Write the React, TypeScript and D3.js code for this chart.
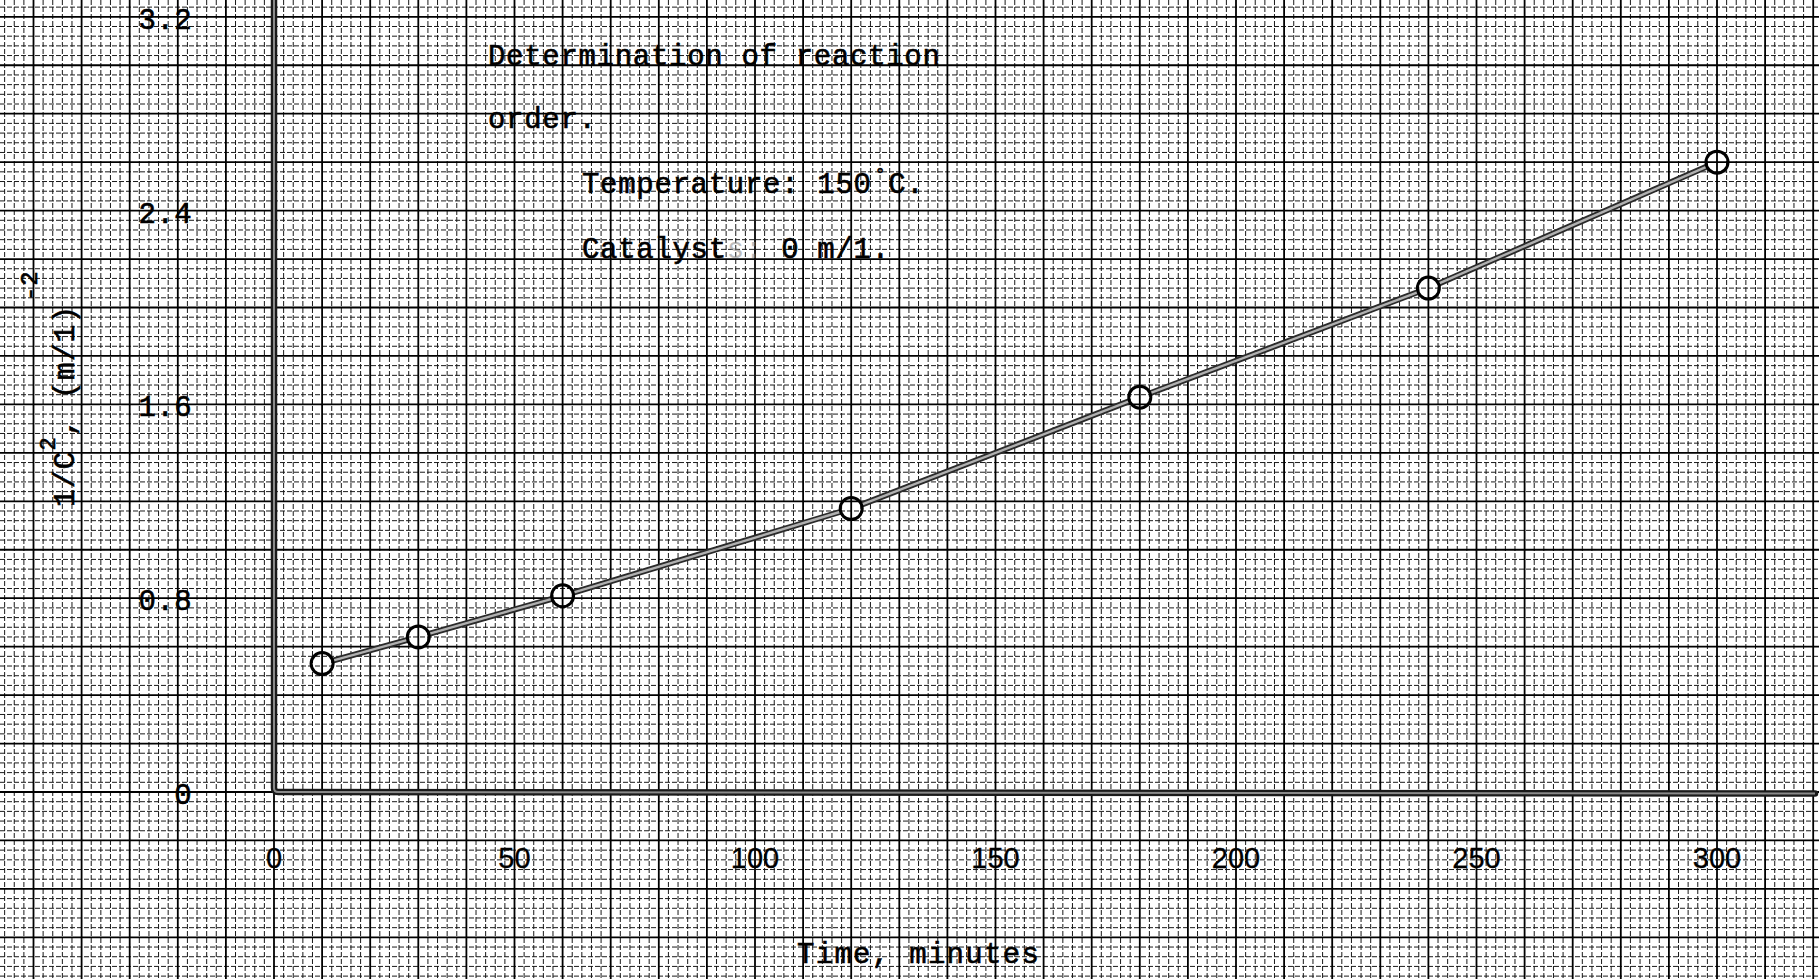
import React from 'react';
import * as d3 from 'd3';

const W = 1819;
const H = 979;

// Data
const times = [10, 30, 60, 120, 180, 240, 300];
const invC2 = [0.53, 0.64, 0.81, 1.17, 1.63, 2.08, 2.6];

const xTickValues = [0, 50, 100, 150, 200, 250, 300];
const xTickLabels = ['0', '50', '100', '150', '200', '250', '300'];
const yTickValues = [0, 0.8, 1.6, 2.4, 3.2];
const yTickLabels = ['0', '0.8', '1.6', '2.4', '3.2'];

const titleLine1 = 'Determination of reaction';
const titleLine2 = 'order.';
const tempLabel = 'Temperature:  150';
const catLabel = 'Catalyst';
const catValue = '  0 m/1.';
const xLabel = 'Time, minutes';

const MONO = "'Liberation Mono', 'DejaVu Sans Mono', monospace";
const SANS = "'Liberation Sans', 'DejaVu Sans', sans-serif";

export default function App() {
  const x = d3.scaleLinear().domain([0, 300]).range([274, 1717]);
  const y = d3.scaleLinear().domain([0, 3.2]).range([792, 16.8]);

  const xStep = 2;
  const yStep = 0.04;
  const mod5 = (i: number) => ((i % 5) + 5) % 5 === 0;

  const xi0 = Math.ceil(x.invert(0) / xStep);
  const xi1 = Math.floor(x.invert(W) / xStep);
  const vlines = d3.range(xi0, xi1 + 1).map((i) => ({ pos: x(i * xStep), major: mod5(i) }));

  const yi0 = Math.ceil(y.invert(H) / yStep);
  const yi1 = Math.floor(y.invert(0) / yStep);
  const hlines = d3.range(yi0, yi1 + 1).map((i) => ({ pos: y(i * yStep), major: mod5(i) }));

  const pts: [number, number][] = times.map((t, i) => [x(t), y(invC2[i])]);
  const r = 11;
  const segs = d3.pairs(pts).map(([a, b]) => {
    const dx = b[0] - a[0];
    const dy = b[1] - a[1];
    const L = Math.hypot(dx, dy);
    const ux = dx / L;
    const uy = dy / L;
    return [a[0] + ux * r, a[1] + uy * r, b[0] - ux * r, b[1] - uy * r];
  });

  const x0 = x(0);
  const y0 = y(0);
  const axisPath = `M${x0},0 L${x0},${y0 - 4} Q${x0},${y0} ${x0 + 4},${y0} L${W - 4},${y0 + 1.5}`;

  return (
    <svg
      width={W}
      height={H}
      style={{ position: 'absolute', left: 0, top: 0, background: '#fff' }}
    >
      <rect x={0} y={0} width={W} height={H} fill="#fff" />
      {/* minor grid */}
      <g>
        {vlines.filter((l) => !l.major).map((l, i) => (
          <line key={'vm' + i} x1={l.pos} x2={l.pos} y1={0} y2={H}
            stroke="#1a1a1a" strokeWidth={1} strokeDasharray="5 2" />
        ))}
        {hlines.filter((l) => !l.major).map((l, i) => (
          <line key={'hm' + i} x1={0} x2={W} y1={l.pos} y2={l.pos}
            stroke="#1a1a1a" strokeWidth={1} strokeDasharray="5 2" />
        ))}
      </g>
      {/* major grid */}
      <g>
        {vlines.filter((l) => l.major).map((l, i) => (
          <line key={'vM' + i} x1={l.pos} x2={l.pos} y1={0} y2={H}
            stroke="#000" strokeWidth={1.8} />
        ))}
        {hlines.filter((l) => l.major).map((l, i) => (
          <line key={'hM' + i} x1={0} x2={W} y1={l.pos} y2={l.pos}
            stroke="#000" strokeWidth={1.8} />
        ))}
      </g>

      {/* axes */}
      <path d={axisPath} fill="none" stroke="#1a1a1a" strokeWidth={6.5} strokeLinecap="round" />
      <path d={axisPath} fill="none" stroke="#8a8a8a" strokeWidth={2} />

      {/* data line */}
      <g>
        {segs.map((s, i) => (
          <g key={'s' + i}>
            <line x1={s[0]} y1={s[1]} x2={s[2]} y2={s[3]} stroke="#2a2a2a" strokeWidth={6} />
            <line x1={s[0]} y1={s[1]} x2={s[2]} y2={s[3]} stroke="#b0b0b0" strokeWidth={2.4} />
          </g>
        ))}
        {pts.map((p, i) => (
          <circle key={'c' + i} cx={p[0]} cy={p[1]} r={r} fill="none" stroke="#000" strokeWidth={3} />
        ))}
      </g>

      {/* y tick labels */}
      <g fontFamily={MONO} fontSize={29} fill="#000" stroke="#000" strokeWidth={0.6}>
        {yTickValues.map((v, i) => (
          <text key={'yt' + i} x={192} y={y(v) + 12} textAnchor="end" letterSpacing={0.4}>
            {yTickLabels[i]}
          </text>
        ))}
      </g>

      {/* x tick labels */}
      <g fontFamily={SANS} fontSize={29} fill="#000" stroke="#000" strokeWidth={0.3}>
        {xTickValues.map((v, i) => (
          <text key={'xt' + i} x={x(v)} y={868} textAnchor="middle">
            {xTickLabels[i]}
          </text>
        ))}
      </g>

      {/* annotations */}
      <g fontFamily={MONO} fontSize={29} fill="#000" stroke="#000" strokeWidth={0.6} letterSpacing={0.7}>
        <text x={488} y={65}>{titleLine1}</text>
        <text x={488} y={128}>{titleLine2}</text>
        <text x={582} y={193}>
          {tempLabel}
          <tspan fontSize={18} dy={-13} dx={3}>°</tspan>
          <tspan dy={13} dx={2}>C.</tspan>
        </text>
        <text x={582} y={258}>
          {catLabel}
          <tspan fill="#888" stroke="none" opacity={0.55}>s:</tspan>
          {catValue}
        </text>
        <text x={797} y={963} letterSpacing={1.3}>{xLabel}</text>
      </g>

      {/* y axis label */}
      <g fontFamily={MONO} fontSize={30} fill="#000" stroke="#000" strokeWidth={0.6}>
        <text transform="translate(74,507) rotate(-90)" letterSpacing={0.8}>
          1/C
          <tspan fontSize={22} dy={-19}>2</tspan>
          <tspan dy={19}>, (m/1)</tspan>
          <tspan fontSize={24} dy={-37} dx={4}>-2</tspan>
        </text>
      </g>
    </svg>
  );
}
